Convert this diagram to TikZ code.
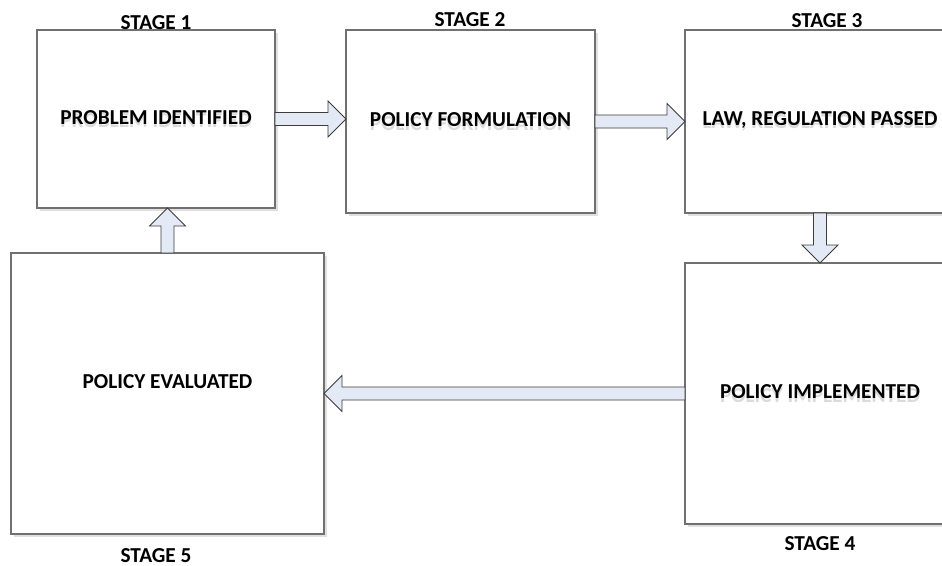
\documentclass[tikz,border=0pt]{standalone}
\usepackage{fontspec}
\setmainfont{Carlito}
\usetikzlibrary{calc,shadows}

\definecolor{boxline}{HTML}{707070}
\definecolor{arrowfill}{HTML}{E4EAF5}
\definecolor{arrowline}{HTML}{3C3C3C}

% text with a faint echo just beneath it
\newcommand\echotext[1]{\rlap{\raisebox{-3.5pt}{\textcolor{black!14}{#1}}}#1}

% block arrow from point #1 to point #2; #3 names its helper coordinate
\newcommand\flowarrow[3]{%
  \coordinate (#3) at ($(#2)!18pt!(#1)$);
  \draw[flowarrowstyle]
    ($(#1)!6.5pt!90:(#2)$) -- ($(#3)!6.5pt!90:(#2)$) -- ($(#3)!18pt!90:(#2)$)
    -- (#2)
    -- ($(#3)!18pt!-90:(#2)$) -- ($(#3)!6.5pt!-90:(#2)$) -- ($(#1)!6.5pt!-90:(#2)$)
    -- cycle;}

\begin{document}
\begin{tikzpicture}[x=1pt,y=-1pt,
  stagebox/.style={draw=boxline, line width=1.1pt, fill=white, rectangle,
    inner sep=0pt, outer sep=0pt, font=\fontsize{21.3}{24}\selectfont\bfseries,
    drop shadow={shadow xshift=3pt, shadow yshift=-3pt, fill=black!12, opacity=1}},
  stagelabel/.style={inner sep=0pt, font=\fontsize{21.3}{24}\selectfont\bfseries},
  flowarrowstyle/.style={draw=arrowline, fill=arrowfill, line width=0.8pt, line join=miter}]

\useasboundingbox (0,0) rectangle (942,565);
\clip (0,0) rectangle (942,565);

% the five stages
\node[stagebox, minimum width=238pt, minimum height=178pt] (b1) at (156,119)
  {\echotext{PROBLEM IDENTIFIED}};
\node[stagebox, minimum width=249pt, minimum height=183pt] (b2) at (470.5,121.5)
  {\echotext{POLICY FORMULATION}};
\node[stagebox, minimum width=270pt, minimum height=183pt] (b3) at (820,121.5)
  {\echotext{LAW, REGULATION PASSED}};
\node[stagebox, minimum width=270pt, minimum height=261pt] (b4) at (820,393.5)
  {\echotext{POLICY IMPLEMENTED}};
\node[stagebox, minimum width=313pt, minimum height=281pt] (b5) at (167.5,393.5) {};
\node[stagelabel] (t5) at ($(b5.center)+(0,-12)$) {POLICY EVALUATED};

% stage captions
\node[stagelabel] (s1) at (156,22.5) {STAGE 1};
\node[stagelabel] (s2) at (470,19.5) {STAGE 2};
\node[stagelabel] (s3) at (827,21) {STAGE 3};
\node[stagelabel] (s4) at (820,543.5) {STAGE 4};
\node[stagelabel] (s5) at (156,556) {STAGE 5};

% connectors between stages
\coordinate (e12) at (b1.east -| b2.west);
\flowarrow{b1.east}{e12}{h12}
\flowarrow{b2.east}{b3.west}{h23}
\flowarrow{b3.south}{b4.north}{h34}
\flowarrow{b4.west}{b5.east}{h45}
\coordinate (e51) at (b5.north |- b1.south);
\flowarrow{b5.north}{e51}{h51}

\end{tikzpicture}
\end{document}
